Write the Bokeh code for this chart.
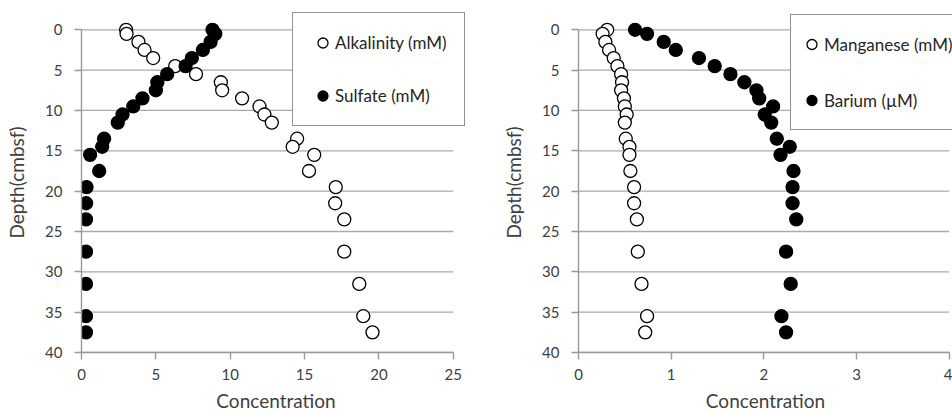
from bokeh.plotting import figure
from bokeh.layouts import row
from bokeh.models import Range1d, FixedTicker, Legend, LegendItem
from bokeh.embed import file_html
from bokeh.resources import INLINE

# ---- data ----
depth = [0, 0.5, 1.5, 2.5, 3.5, 4.5, 5.5, 6.5, 7.5, 8.5, 9.5, 10.5, 11.5,
         13.5, 14.5, 15.5, 17.5, 19.5, 21.5, 23.5, 27.5, 31.5, 35.5, 37.5]
alkalinity = [3.0, 3.03, 3.83, 4.24, 4.82, 6.3, 7.7, 9.37, 9.46, 10.8, 11.97, 12.3, 12.8,
              14.5, 14.2, 15.65, 15.3, 17.1, 17.06, 17.67, 17.67, 18.68, 18.95, 19.57]
sulfate = [8.81, 9.0, 8.68, 8.16, 7.42, 7.0, 5.76, 5.1, 5.0, 4.1, 3.48, 2.76, 2.44,
           1.52, 1.39, 0.58, 1.19, 0.34, 0.31, 0.3, 0.3, 0.3, 0.3, 0.3]
manganese = [0.31, 0.26, 0.29, 0.33, 0.38, 0.42, 0.46, 0.47, 0.46, 0.49, 0.50, 0.52, 0.50,
             0.51, 0.55, 0.55, 0.56, 0.60, 0.60, 0.63, 0.64, 0.68, 0.74, 0.72]
barium = [0.61, 0.74, 0.92, 1.05, 1.30, 1.47, 1.64, 1.79, 1.92, 1.95, 2.10, 2.01, 2.08,
          2.14, 2.28, 2.18, 2.32, 2.31, 2.31, 2.35, 2.24, 2.29, 2.19, 2.24]

left_xticks = [0, 5, 10, 15, 20, 25]
right_xticks = [0, 1, 2, 3, 4]
yticks = [0, 5, 10, 15, 20, 25, 30, 35, 40]

FONT = "Lato"
TEXT = "#404040"
AXIS = "#999999"
GRID = "#aaaaaa"

# the plotting frame is a little larger than the axes so the legend box
# (which in the original overhangs the axes) is not clipped
Y_TOP = -2.144


def make_fig(width, border_left, border_right, xmax_frame, xticks):
    p = figure(width=width, height=414, output_backend="svg", toolbar_location=None,
               x_range=Range1d(0, xmax_frame), y_range=Range1d(yticks[-1], Y_TOP),
               min_border_left=border_left, min_border_right=border_right,
               min_border_top=12, min_border_bottom=62)
    p.outline_line_color = None
    p.background_fill_color = "white"
    p.border_fill_color = "white"
    p.xgrid.grid_line_color = None
    p.ygrid.grid_line_color = None
    # horizontal grid lines spanning only the axis extent
    p.segment(x0=xticks[0], x1=xticks[-1], y0=yticks, y1=yticks,
              line_color=GRID, line_width=1.3)
    p.xaxis.ticker = FixedTicker(ticks=xticks)
    p.yaxis.ticker = FixedTicker(ticks=yticks)
    p.xaxis.bounds = (xticks[0], xticks[-1])
    p.yaxis.bounds = (yticks[0], yticks[-1])
    for ax in (p.xaxis[0], p.yaxis[0]):
        ax.axis_line_color = AXIS
        ax.axis_line_width = 1.4
        ax.major_tick_line_color = AXIS
        ax.major_tick_line_width = 1.4
        ax.major_tick_out = 7
        ax.major_tick_in = 0
        ax.minor_tick_line_color = None
        ax.major_label_text_font = FONT
        ax.major_label_text_font_size = "15px"
        ax.major_label_text_color = TEXT
        ax.axis_label_text_font = FONT
        ax.axis_label_text_font_size = "19px"
        ax.axis_label_text_font_style = "normal"
        ax.axis_label_text_color = TEXT
    p.xaxis.axis_label = "Concentration"
    p.yaxis.axis_label = "Depth(cmbsf)"
    p.yaxis.major_label_standoff = 12
    p.xaxis.major_label_standoff = 9
    p.yaxis.axis_label_standoff = 14
    p.xaxis.axis_label_standoff = 6
    return p


def style_legend(leg, loc, pad, gw, gh, spacing, standoff):
    leg.location = loc
    leg.padding = pad
    leg.glyph_width = gw
    leg.glyph_height = gh
    leg.label_height = gh
    leg.spacing = spacing
    leg.label_standoff = standoff
    leg.margin = 0
    leg.border_line_color = "#222222"
    leg.border_line_width = 1.5
    leg.background_fill_color = "white"
    leg.background_fill_alpha = 1
    leg.label_text_font = FONT
    leg.label_text_font_size = "17px"
    leg.label_text_color = "#262626"


# ---- left panel ----
p1 = make_fig(476, 81, 6, 26.16, left_xticks)
r_alk = p1.scatter(alkalinity, depth, marker="circle", size=13, fill_color="white",
                   line_color="black", line_width=1.3)
r_sul = p1.scatter(sulfate, depth, marker="circle", size=13, fill_color="black",
                   line_color="black", line_width=1.3)
leg1 = Legend(items=[LegendItem(label="Alkalinity (mM)", renderers=[r_alk]),
                     LegendItem(label="Sulfate (mM)", renderers=[r_sul])])
style_legend(leg1, (211, 226), 17, 25, 25, 28, -6)
p1.add_layout(leg1, "center")

# ---- right panel ----
p2 = make_fig(476, 102, 0, 4.036, right_xticks)
r_mn = p2.scatter(manganese, depth, marker="circle", size=13, fill_color="white",
                  line_color="black", line_width=1.3)
r_ba = p2.scatter(barium, depth, marker="circle", size=13, fill_color="black",
                  line_color="black", line_width=1.3)
leg2 = Legend(items=[LegendItem(label="Manganese (mM)", renderers=[r_mn]),
                     LegendItem(label="Barium (\u00b5M)", renderers=[r_ba])])
style_legend(leg2, (212, 222), 8, 25, 42, 14, -8)
p2.add_layout(leg2, "center")

layout = row(p1, p2)
open("out.html", "w").write(file_html(layout, INLINE))
